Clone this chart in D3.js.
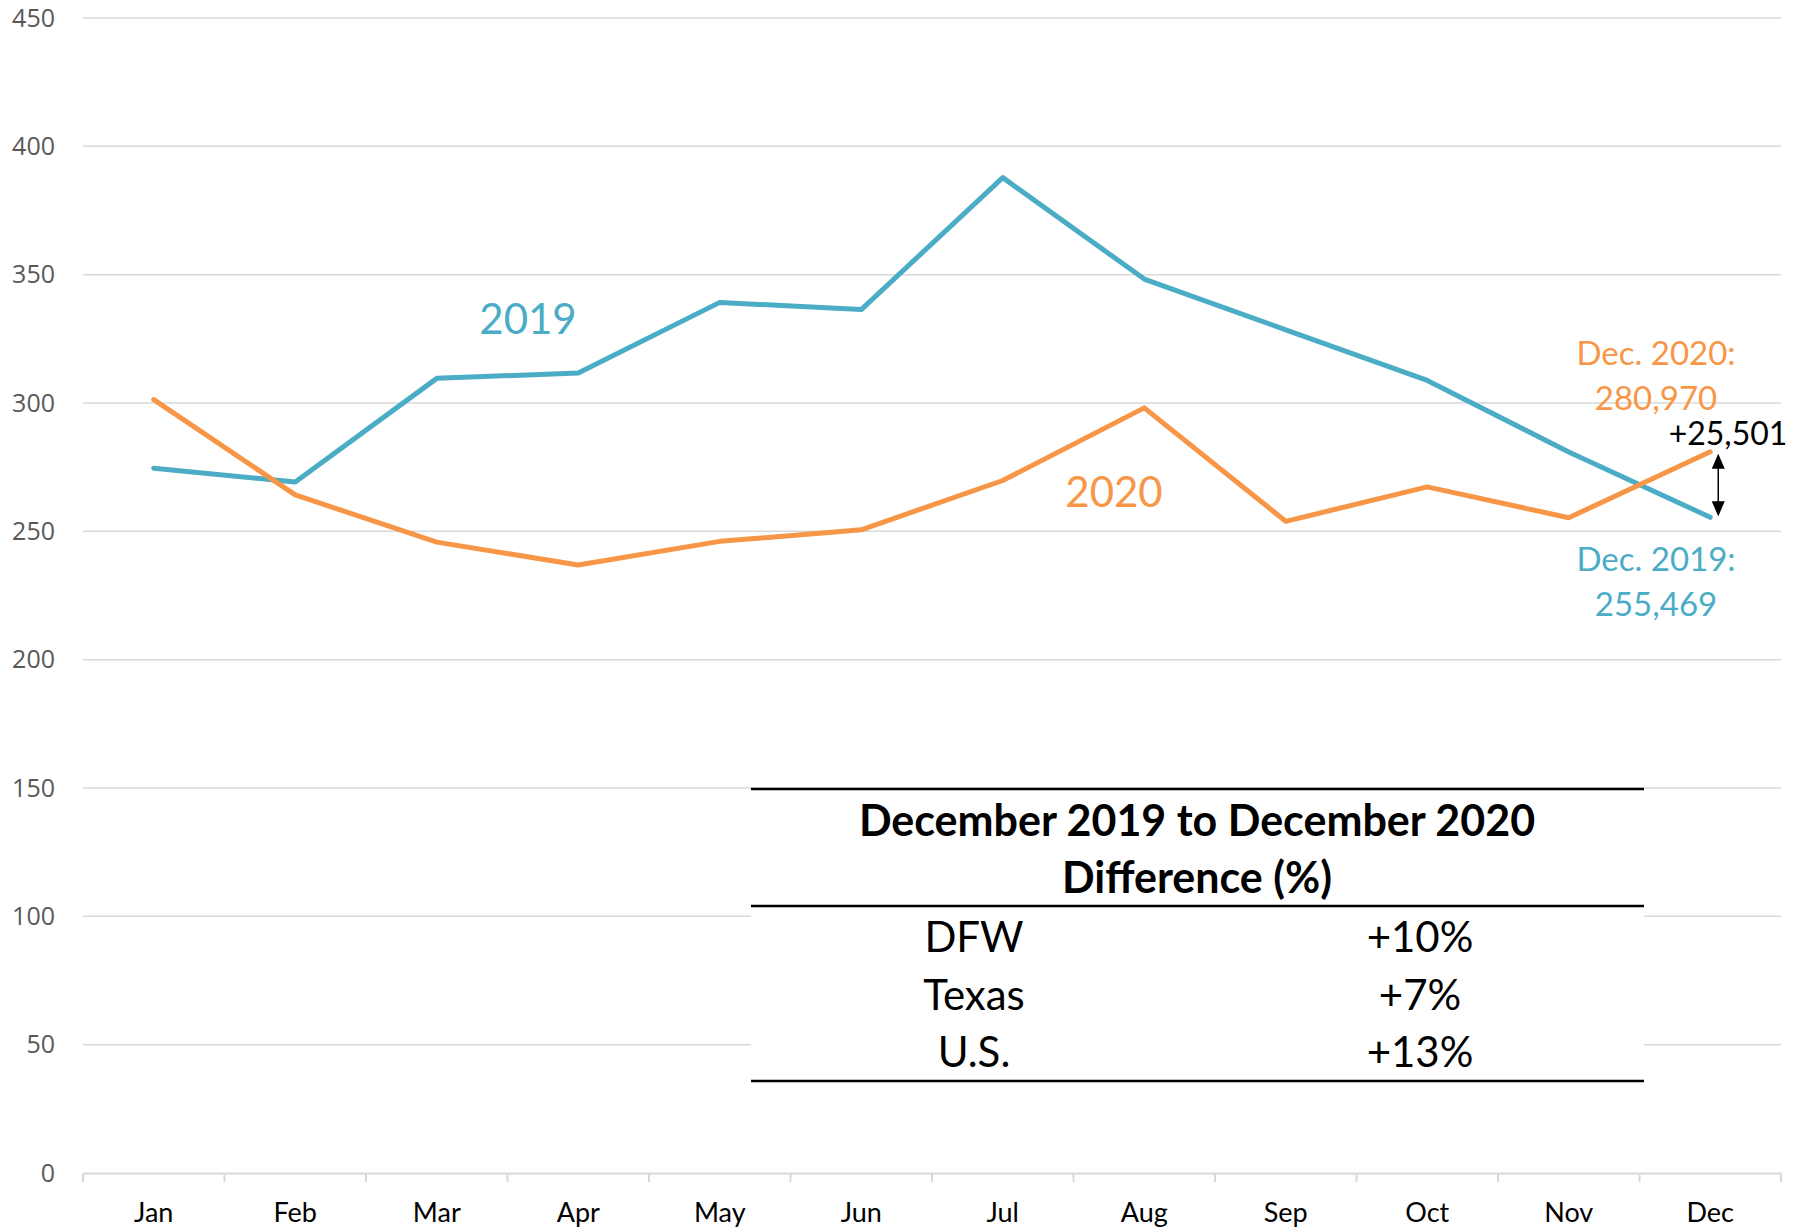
<!DOCTYPE html>
<html>
<head>
<meta charset="utf-8">
<script src="https://cdn.jsdelivr.net/npm/d3@7"></script>
<style>
  html, body { margin: 0; padding: 0; background: #fff; }
  svg { display: block; }
</style>
</head>
<body>
<svg id="chart"></svg>
<script>
const months = ["Jan", "Feb", "Mar", "Apr", "May", "Jun", "Jul", "Aug", "Sep", "Oct", "Nov", "Dec"];
// thousands
const values2019 = [274.6, 269.2, 309.6, 311.7, 339.2, 336.4, 387.8, 348.3, 328.5, 308.8, 280.9, 255.469];
const values2020 = [301.3, 264.2, 245.8, 236.9, 246.1, 250.6, 269.8, 298.1, 253.9, 267.3, 255.3, 280.97];
const yTicks = [0, 50, 100, 150, 200, 250, 300, 350, 400, 450];
const tableTitle = ["December 2019 to December 2020", "Difference (%)"];
const tableRegions = ["DFW", "Texas", "U.S."];
const tableChanges = ["+10%", "+7%", "+13%"];

const W = 1805, H = 1228;
const blue = "#4BACC6", orange = "#F79646";
const margin = {"top": 18, "right": 24, "bottom": 55, "left": 83};

const svg = d3.select("#chart").attr("width", W).attr("height", H);

const x = d3.scaleBand().domain(months).range([margin.left, W - margin.right]);
const y = d3.scaleLinear().domain([0, 450]).range([H - margin.bottom, margin.top]);
const cx = m => x(m) + x.bandwidth() / 2;

// gridlines
svg.append("g")
    .selectAll("line")
    .data(yTicks.filter(d => d > 0))
    .join("line")
    .attr("x1", margin.left).attr("x2", W - margin.right)
    .attr("y1", d => y(d)).attr("y2", d => y(d))
    .attr("stroke", "#D9D9D9").attr("stroke-width", 1.5);

// y axis labels
const yAxis = d3.axisLeft(y).tickValues(yTicks).tickSize(0).tickPadding(28);
svg.append("g")
    .attr("transform", `translate(${margin.left},0)`)
    .call(yAxis)
    .call(g => g.select(".domain").remove())
    .selectAll("text")
    .attr("font-family", "Open Sans")
    .attr("font-size", 25)
    .attr("fill", "#595959");

// x axis
const xAxis = d3.axisBottom(x).tickSize(0).tickPadding(0);
const gx = svg.append("g")
    .attr("transform", `translate(0,${y(0)})`)
    .call(xAxis);
gx.select(".domain").attr("stroke", "#D9D9D9").attr("stroke-width", 2);
gx.selectAll("text")
    .attr("font-family", "Lato")
    .attr("font-size", 27)
    .attr("fill", "#000")
    .attr("y", 30)
    .attr("dy", "0.71em");
gx.selectAll(".sep")
    .data(d3.range(months.length + 1))
    .join("line")
    .attr("class", "sep")
    .attr("x1", i => margin.left + i * x.step()).attr("x2", i => margin.left + i * x.step())
    .attr("y1", 0).attr("y2", 9)
    .attr("stroke", "#D9D9D9").attr("stroke-width", 2);

// lines
const line = d3.line().x((d, i) => cx(months[i])).y(d => y(d));
svg.append("path")
    .datum(values2019)
    .attr("fill", "none").attr("stroke", blue).attr("stroke-width", 5)
    .attr("stroke-linejoin", "round").attr("stroke-linecap", "round")
    .attr("d", line);
svg.append("path")
    .datum(values2020)
    .attr("fill", "none").attr("stroke", orange).attr("stroke-width", 5)
    .attr("stroke-linejoin", "round").attr("stroke-linecap", "round")
    .attr("d", line);

// series labels
svg.append("text")
    .attr("x", 528).attr("y", 319).attr("dy", "0.36em")
    .attr("text-anchor", "middle")
    .attr("font-family", "Lato").attr("font-size", 42).attr("fill", blue)
    .text("2019");
svg.append("text")
    .attr("x", 1114).attr("y", 492).attr("dy", "0.36em")
    .attr("text-anchor", "middle")
    .attr("font-family", "Lato").attr("font-size", 42).attr("fill", orange)
    .text("2020");

// december annotations
const last = months.length - 1;
const decX = cx(months[last]);
const note = (lines, yy, color) => {
    lines.forEach((t, i) => {
        svg.append("text")
            .attr("x", 1656).attr("y", yy + i * 45).attr("dy", "0.36em")
            .attr("text-anchor", "middle")
            .attr("font-family", "Lato").attr("font-size", 33).attr("fill", color)
            .text(t);
    });
};
note(["Dec. 2020:", d3.format(",")(Math.round(values2020[last] * 1000))], 353, orange);
note(["Dec. 2019:", d3.format(",")(Math.round(values2019[last] * 1000))], 559, blue);

const diff = Math.round((values2020[last] - values2019[last]) * 1000);
svg.append("text")
    .attr("x", 1728).attr("y", 433).attr("dy", "0.36em")
    .attr("text-anchor", "middle")
    .attr("font-family", "Lato").attr("font-size", 32).attr("fill", "#000")
    .text("+" + d3.format(",")(diff));

// double arrow between dec values
const ax = decX + 8;
const yTop = y(values2020[last]) + 2, yBot = y(values2019[last]) - 1;
svg.append("line")
    .attr("x1", ax).attr("x2", ax)
    .attr("y1", yTop + 12).attr("y2", yBot - 12)
    .attr("stroke", "#000").attr("stroke-width", 1.5);
svg.append("path")
    .attr("d", `M${ax},${yTop} L${ax - 6.5},${yTop + 15} L${ax + 6.5},${yTop + 15} Z`)
    .attr("fill", "#000");
svg.append("path")
    .attr("d", `M${ax},${yBot} L${ax - 6.5},${yBot - 15} L${ax + 6.5},${yBot - 15} Z`)
    .attr("fill", "#000");

// table
const tx0 = 751, tx1 = 1644, ty0 = 789, ty1 = 906, ty2 = 1081;
const table = svg.append("g");
table.append("rect")
    .attr("x", tx0).attr("y", ty0).attr("width", tx1 - tx0).attr("height", ty2 - ty0)
    .attr("fill", "#fff");
[ty0, ty1, ty2].forEach(yy => {
    table.append("line")
        .attr("x1", tx0).attr("x2", tx1).attr("y1", yy).attr("y2", yy)
        .attr("stroke", "#000").attr("stroke-width", 2.5);
});
tableTitle.forEach((t, i) => {
    table.append("text")
        .attr("x", 1197).attr("y", 821 + i * 57).attr("dy", "0.36em")
        .attr("text-anchor", "middle")
        .attr("font-family", "Lato").attr("font-weight", "bold").attr("font-size", 43)
        .attr("fill", "#000")
        .text(t);
});
tableRegions.forEach((r, i) => {
    const yy = 937 + i * 57.5;
    table.append("text")
        .attr("x", 974).attr("y", yy).attr("dy", "0.36em")
        .attr("text-anchor", "middle")
        .attr("font-family", "Lato").attr("font-size", 42).attr("fill", "#000")
        .text(r);
    table.append("text")
        .attr("x", 1420).attr("y", yy).attr("dy", "0.36em")
        .attr("text-anchor", "middle")
        .attr("font-family", "Lato").attr("font-size", 42).attr("fill", "#000")
        .text(tableChanges[i]);
});
</script>
</body>
</html>
